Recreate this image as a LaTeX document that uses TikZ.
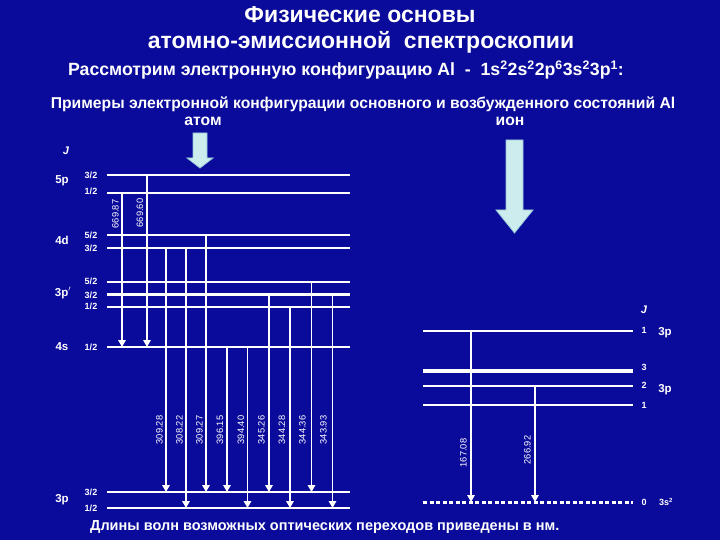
\documentclass[tikz,border=0pt]{standalone}
\usepackage{fontspec}
\setmainfont{Liberation Sans}
\usetikzlibrary{arrows.meta}
\definecolor{bg}{RGB}{10,10,155}
\definecolor{arrfill}{RGB}{205,236,238}
\definecolor{arrdraw}{RGB}{150,200,215}
\begin{document}
\begin{tikzpicture}[x=1pt,y=-1pt,
  lev/.style={white, line width=2.4pt},
  levthin/.style={white, line width=2pt},
  levthick/.style={white, line width=3.6pt},
  levdash/.style={white, line width=3pt, dash pattern=on 4pt off 2.5pt},
  tr/.style={white, line width=1.5pt, -{Triangle[width=7.5pt,length=7pt]}},
  lbl/.style={text=white, font=\bfseries\fontsize{9}{9}\selectfont, inner sep=0pt},
  term/.style={text=white, font=\bfseries\fontsize{11.5}{11.5}\selectfont, inner sep=0pt},
  wl/.style={text=white, font=\fontsize{9.3}{9.3}\selectfont, rotate=90, inner sep=0pt},
  head/.style={text=white, font=\bfseries\fontsize{23}{23}\selectfont, inner sep=0pt},
  sub/.style={text=white, font=\bfseries\fontsize{17.7}{17.7}\selectfont, inner sep=0pt},
  small/.style={text=white, font=\bfseries\fontsize{15.7}{15.7}\selectfont, inner sep=0pt},
  note/.style={text=white, font=\bfseries\fontsize{14.5}{14.5}\selectfont, inner sep=0pt},
  bigarrow/.style={fill=arrfill, draw=arrdraw, line width=0.8pt},
  ]
\fill[bg] (0,0) rectangle (720,540);
\useasboundingbox (0,0) rectangle (720,540);

% ---- titles
\node[head] (title1) at (360,15) {Физические основы};
\node[head] (title2) at (361,42) {атомно-эмиссионной\ \ спектроскопии};
\node[sub] (title3) at (346,70) {Рассмотрим электронную конфигурацию Al\ \ -\ \ 1s\textsuperscript{2}2s\textsuperscript{2}2p\textsuperscript{6}3s\textsuperscript{2}3p\textsuperscript{1}:};
\node[small] (title4) at (363,104) {Примеры электронной конфигурации основного и возбужденного состояний Al};
\node[small] (atom) at (203,121) {атом};
\node[small] (ion) at (510,121) {ион};

% ---- block arrows
\filldraw[bigarrow] (193,133) -- (207,133) -- (207,158) -- (213,158) -- (200,168) -- (187,158) -- (193,158) -- cycle;
\filldraw[bigarrow] (506,140) -- (523,140) -- (523,210) -- (533,210) -- (514.5,233) -- (496,210) -- (506,210) -- cycle;

% ---- atom levels (left)
\coordinate (L5p3) at (107,175);  \coordinate (R5p3) at (350,175);
\coordinate (L5p1) at (107,193);  \coordinate (R5p1) at (350,193);
\coordinate (L4d5) at (107,235);  \coordinate (R4d5) at (350,235);
\coordinate (L4d3) at (107,248);  \coordinate (R4d3) at (350,248);
\coordinate (Lq5) at (107,282);   \coordinate (Rq5) at (350,282);
\coordinate (Lq3) at (107,294.5); \coordinate (Rq3) at (350,294.5);
\coordinate (Lq1) at (107,307);   \coordinate (Rq1) at (350,307);
\coordinate (L4s) at (107,347);   \coordinate (R4s) at (350,347);
\coordinate (L3p3) at (107,492);  \coordinate (R3p3) at (350,492);
\coordinate (L3p1) at (107,508);  \coordinate (R3p1) at (350,508);
\foreach \a/\b in {L5p3/R5p3,L5p1/R5p1,L4d5/R4d5,L4d3/R4d3,Lq5/Rq5,Lq3/Rq3,Lq1/Rq1,L4s/R4s,L3p3/R3p3,L3p1/R3p1}
  \draw[lev] (\a) -- (\b);

% left labels
\node[text=white, font=\bfseries\itshape\fontsize{11}{11}\selectfont, inner sep=0pt] (Jl) at (66,151) {J};
\node[term] (n5p) at (62,181) {5p};
\node[lbl] (j5p3) at (91,175) {3/2};
\node[lbl] (j5p1) at (91,191) {1/2};
\node[term] (n4d) at (62,240) {4d};
\node[lbl] (j4d5) at (91,235) {5/2};
\node[lbl] (j4d3) at (91,248) {3/2};
\node[term] (n3pp) at (63,293) {3p$^{\prime}$};
\node[lbl] (jq5) at (91,281) {5/2};
\node[lbl] (jq3) at (91,295) {3/2};
\node[lbl] (jq1) at (91,306) {1/2};
\node[term] (n4s) at (62,347) {4s};
\node[lbl] (j4s) at (91,347) {1/2};
\node[term] (n3p) at (62,500) {3p};
\node[lbl] (j3p3) at (91,492) {3/2};
\node[lbl] (j3p1) at (91,508) {1/2};

% transition columns
\coordinate (x1) at (122,0);
\coordinate (x2) at (147,0);
\coordinate (x3) at (166,0);
\coordinate (x4) at (186,0);
\coordinate (x5) at (206,0);
\coordinate (x6) at (227,0);
\coordinate (x7) at (247.5,0);
\coordinate (x8) at (269,0);
\coordinate (x9) at (290,0);
\coordinate (x10) at (311.5,0);
\coordinate (x11) at (332.5,0);

\draw[tr] (L5p1 -| x1) -- (L4s -| x1);
\draw[tr] (L5p3 -| x2) -- (L4s -| x2);
\draw[tr] (L4d3 -| x3) -- (L3p3 -| x3);
\draw[tr] (L4d3 -| x4) -- (L3p1 -| x4);
\draw[tr] (L4d5 -| x5) -- (L3p3 -| x5);
\draw[tr] (L4s -| x6) -- (L3p3 -| x6);
\draw[tr] (L4s -| x7) -- (L3p1 -| x7);
\draw[tr] (Lq3 -| x8) -- (L3p3 -| x8);
\draw[tr] (Lq1 -| x9) -- (L3p1 -| x9);
\draw[tr] (Lq5 -| x10) -- (L3p3 -| x10);
\draw[tr] (Lq3 -| x11) -- (L3p1 -| x11);

\node[wl] (w1) at (115.5,214) {669.87};
\node[wl] (w2) at (140,213) {669.60};
\node[wl] (w3) at (159.5,430) {309.28};
\node[wl] (w4) at (179.5,430) {308.22};
\node[wl] (w5) at (199.5,430) {309.27};
\node[wl] (w6) at (220,430) {396.15};
\node[wl] (w7) at (241,430) {394.40};
\node[wl] (w8) at (261.5,430) {345.26};
\node[wl] (w9) at (282,430) {344.28};
\node[wl] (w10) at (302.5,430) {344.36};
\node[wl] (w11) at (323.5,430) {343.93};

% ---- ion levels (right)
\coordinate (LiA) at (423,331);  \coordinate (RiA) at (633,331);
\coordinate (Li3) at (423,371);  \coordinate (Ri3) at (633,371);
\coordinate (Li2) at (423,386);  \coordinate (Ri2) at (633,386);
\coordinate (Li1) at (423,405);  \coordinate (Ri1) at (633,405);
\coordinate (Li0) at (423,502);  \coordinate (Ri0) at (633,502);
\draw[levthin] (LiA) -- (RiA);
\draw[levthick] (Li3) -- (Ri3);
\draw[levthin] (Li2) -- (Ri2);
\draw[levthin] (Li1) -- (Ri1);
\draw[levdash] (Li0) -- (Ri0);

\node[text=white, font=\bfseries\itshape\fontsize{11}{11}\selectfont, inner sep=0pt] (Jr) at (644,310) {J};
\node[lbl] (ja) at (644,330) {1};
\node[term] (n3pa) at (665,333) {3p};
\node[lbl] (j3) at (644,367) {3};
\node[lbl] (j2) at (644,385) {2};
\node[term] (n3pb) at (665,390) {3p};
\node[lbl] (j1) at (644,405) {1};
\node[lbl] (j0) at (644,502) {0};
\node[lbl] (n3s) at (666,502) {3s\textsuperscript{\fontsize{6}{6}\selectfont 2}};

\coordinate (y1) at (471,0);
\coordinate (y2) at (535,0);
\draw[tr] (LiA -| y1) -- (Li0 -| y1);
\draw[tr] (Li2 -| y2) -- (Li0 -| y2);
\node[wl] (v1) at (463.5,453) {167.08};
\node[wl] (v2) at (527.5,450) {266.92};

% ---- bottom note
\node[note, anchor=west] (note) at (90,527) {Длины волн возможных оптических переходов приведены в нм.};
\end{tikzpicture}
\end{document}
